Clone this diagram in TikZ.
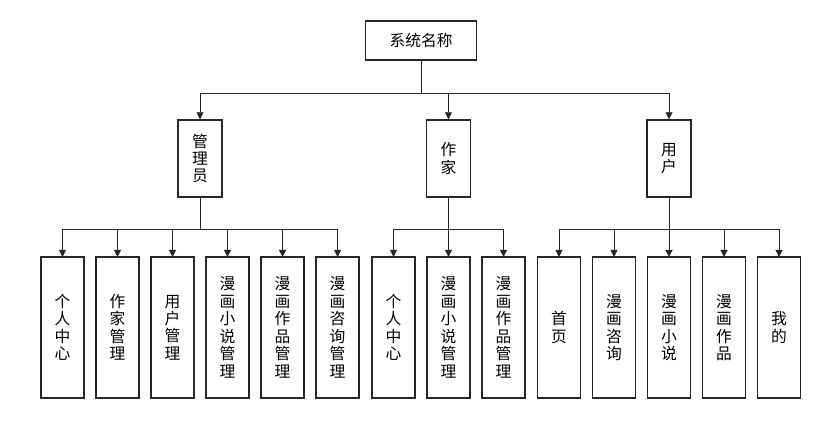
\documentclass[tikz,border=0pt]{standalone}
\usepackage{fontspec}
\setmainfont{Noto Sans CJK SC}
\usetikzlibrary{arrows.meta,positioning,calc}
\tikzset{
  rootbox/.style={rectangle,draw=black!85,line width=1pt,fill=white,
    minimum width=2.775cm,minimum height=0.975cm,align=center,
    font=\fontsize{11.2}{12}\selectfont,inner sep=0pt},
  rolebox/.style={rectangle,draw=black!85,line width=1pt,fill=white,
    minimum width=1.1cm,minimum height=1.925cm,align=center,
    font=\fontsize{11.2}{12.2}\selectfont,inner sep=0pt},
  funcbox/.style={rectangle,draw=black!85,line width=1pt,fill=white,
    minimum width=1.075cm,minimum height=3.525cm,align=center,
    font=\fontsize{11.2}{12.4}\selectfont,inner sep=0pt,outer sep=0pt},
  link/.style={draw=black!85,line width=0.6pt},
  arrow/.style={-{Triangle[width=5pt,length=5pt]},draw=black!85,line width=0.6pt},
}

\begin{document}
\begin{tikzpicture}[x=0.025cm,y=-0.025cm]

  % canvas
  \useasboundingbox (0,0) rectangle (840,425);

  % root
  \node[rootbox] (root) at (421,40.5) {系统名称};

  % roles
  \node[rolebox] (adm) at (200,158.5) {管\\理\\员};
  \node[rolebox] (wri) at (448.5,158.5) {作\\家};
  \node[rolebox] (usr) at (669,158.5) {用\\户};

  % admin functions
  \node[funcbox] (a1) at (62.5,327.5) {个\\人\\中\\心};
  \node[funcbox,right=0.3cm of a1] (a2) {作\\家\\管\\理};
  \node[funcbox,right=0.3cm of a2] (a3) {用\\户\\管\\理};
  \node[funcbox,right=0.3cm of a3] (a4) {漫\\画\\小\\说\\管\\理};
  \node[funcbox,right=0.3cm of a4] (a5) {漫\\画\\作\\品\\管\\理};
  \node[funcbox,right=0.3cm of a5] (a6) {漫\\画\\咨\\询\\管\\理};

  % writer functions
  \node[funcbox] (w1) at (393.5,327.5) {个\\人\\中\\心};
  \node[funcbox,right=0.3cm of w1] (w2) {漫\\画\\小\\说\\管\\理};
  \node[funcbox,right=0.3cm of w2] (w3) {漫\\画\\作\\品\\管\\理};

  % user functions
  \node[funcbox] (u1) at (559,327.5) {首\\页};
  \node[funcbox,right=0.3cm of u1] (u2) {漫\\画\\咨\\询};
  \node[funcbox,right=0.3cm of u2] (u3) {漫\\画\\小\\说};
  \node[funcbox,right=0.3cm of u3] (u4) {漫\\画\\作\\品};
  \node[funcbox,right=0.3cm of u4] (u5) {我\\的};

  % bus points
  \coordinate (br) at (421,93);
  \coordinate (ba) at (200,229);
  \coordinate (bw) at (448.5,229);
  \coordinate (bu) at (669,229);

  % root to roles
  \draw[link] (root.south) -- (br);
  \draw[arrow] (br) -| (adm.north);
  \draw[arrow] (br) -| (wri.north);
  \draw[arrow] (br) -| (usr.north);

  % roles to functions
  \draw[link] (adm.south) -- (ba);
  \draw[arrow] (ba) -| (a1.north);
  \draw[arrow] (ba) -| (a2.north);
  \draw[arrow] (ba) -| (a3.north);
  \draw[arrow] (ba) -| (a4.north);
  \draw[arrow] (ba) -| (a5.north);
  \draw[arrow] (ba) -| (a6.north);

  \draw[link] (wri.south) -- (bw);
  \draw[arrow] (bw) -| (w1.north);
  \draw[arrow] (bw) -| (w2.north);
  \draw[arrow] (bw) -| (w3.north);

  \draw[link] (usr.south) -- (bu);
  \draw[arrow] (bu) -| (u1.north);
  \draw[arrow] (bu) -| (u2.north);
  \draw[arrow] (bu) -| (u3.north);
  \draw[arrow] (bu) -| (u4.north);
  \draw[arrow] (bu) -| (u5.north);

\end{tikzpicture}
\end{document}
